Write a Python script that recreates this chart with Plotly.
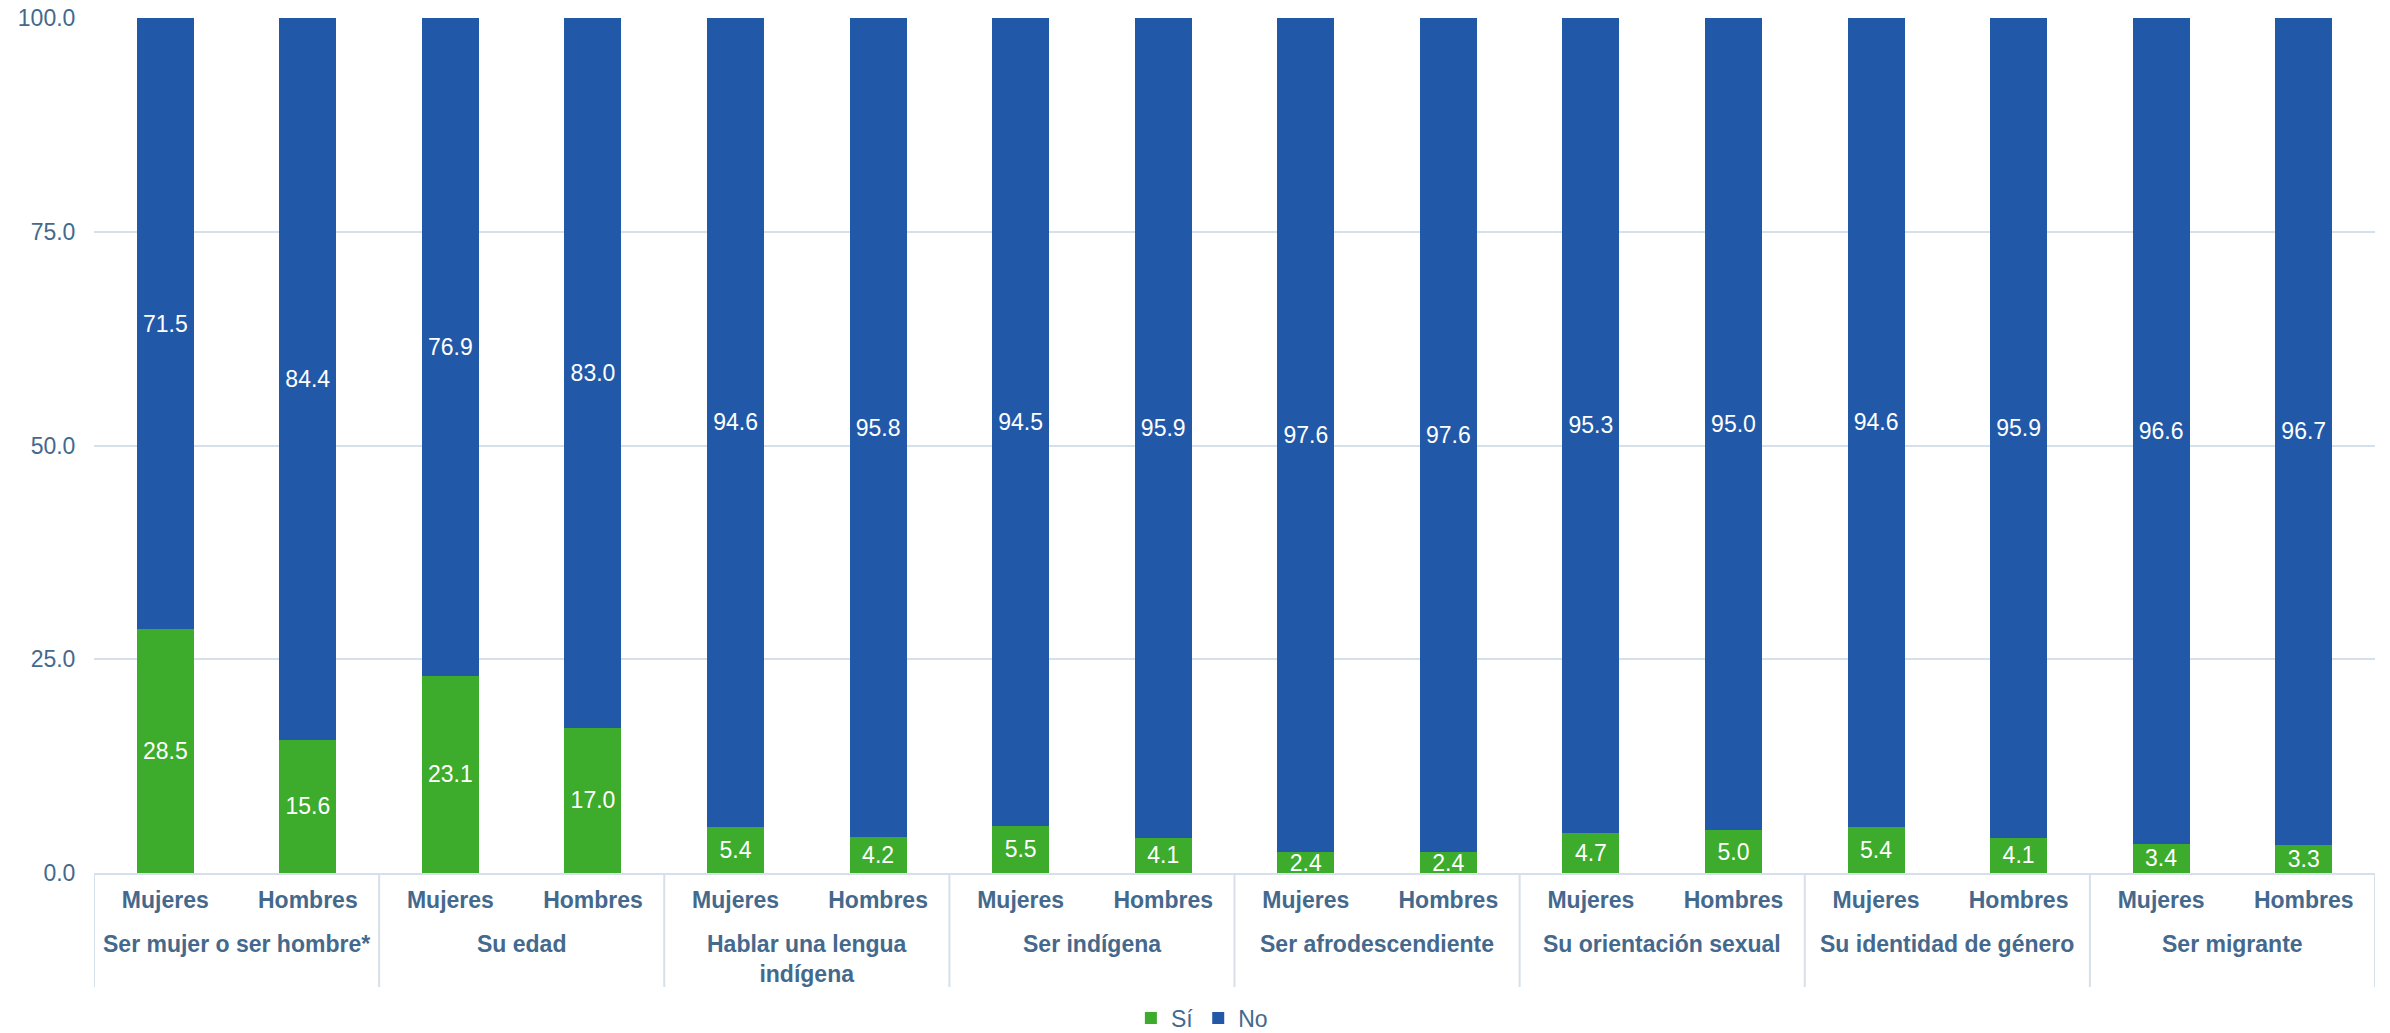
import plotly.graph_objects as go

groups = ["Ser mujer o ser hombre*", "Su edad", "Hablar una lengua<br>indígena", "Ser indígena",
          "Ser afrodescendiente", "Su orientación sexual", "Su identidad de género", "Ser migrante"]
sexes = ["Mujeres", "Hombres"]

si = [28.5, 15.6, 23.1, 17.0, 5.4, 4.2, 5.5, 4.1, 2.4, 2.4, 4.7, 5.0, 5.4, 4.1, 3.4, 3.3]
no = [71.5, 84.4, 76.9, 83.0, 94.6, 95.8, 94.5, 95.9, 97.6, 97.6, 95.3, 95.0, 94.6, 95.9, 96.6, 96.7]
y_ticks = [0, 25, 50, 75, 100]

x_inner = [s for _ in groups for s in sexes]
xpos = list(range(len(x_inner)))
n_sex = len(sexes)

TXT = "#44698D"
GRID = "#D5E0EA"
FONT = "Liberation Sans, Arial, sans-serif"

fig = go.Figure()
fig.add_bar(x=xpos, y=si, name="Sí", marker=dict(color="#3DAB2B", line=dict(width=0)),
            text=[f"{v:.1f}" for v in si], textposition="inside", insidetextanchor="middle",
            textangle=0, constraintext="none", textfont=dict(color="white", size=23, family=FONT))
fig.add_bar(x=xpos, y=no, name="No", marker=dict(color="#2159A8", line=dict(width=0)),
            text=[f"{v:.1f}" for v in no], textposition="inside", insidetextanchor="middle",
            textangle=0, constraintext="none", textfont=dict(color="white", size=23, family=FONT))

W, H = 2390, 1033
M_L, M_R, M_T, M_B = 94, 15, 18, 160
plot_h = H - M_T - M_B

annotations = []
shapes = []
for i, g in enumerate(groups):
    annotations.append(dict(x=i * n_sex + (n_sex - 1) / 2, xref="x", y=-56 / plot_h, yref="paper",
                            yanchor="top", xanchor="center", text=f"<b>{g}</b>", showarrow=False,
                            font=dict(size=23, color=TXT, family=FONT)))
for k in range(len(groups) + 1):
    shapes.append(dict(type="line", xref="x", yref="paper", x0=k * n_sex - 0.5, x1=k * n_sex - 0.5,
                       y0=0, y1=-114 / plot_h, line=dict(color=GRID, width=2), layer="below"))

fig.update_layout(
    barmode="stack", bargap=0.6,
    width=W, height=H,
    margin=dict(l=M_L, r=M_R, t=M_T, b=M_B, autoexpand=False),
    plot_bgcolor="white", paper_bgcolor="white",
    font=dict(family=FONT, size=23, color=TXT),
    legend=dict(orientation="h", x=0.4857, xanchor="center", y=-145 / plot_h, yanchor="middle",
                font=dict(size=23, color=TXT), traceorder="normal"),
    annotations=annotations, shapes=shapes,
)
fig.update_yaxes(range=[0, 100], tickvals=y_ticks, tickformat=".1f", gridcolor=GRID, gridwidth=2,
                 zeroline=False, showline=False, tickfont=dict(size=23, color=TXT),
                 ticks="outside", ticklen=13, tickcolor="rgba(0,0,0,0)", automargin=False,
                 ticklabeloverflow="allow")
fig.update_xaxes(range=[-0.5, len(xpos) - 0.5], tickvals=xpos, ticktext=[f"<b>{t}</b>" for t in x_inner],
                 showline=True, linecolor=GRID, linewidth=2, showgrid=False, zeroline=False,
                 tickfont=dict(size=23, color=TXT), ticks="", ticklabelstandoff=5, automargin=False)

fig.write_html("out.html", config={"displayModeBar": False},
               post_script="document.body.style.margin='0px';")
